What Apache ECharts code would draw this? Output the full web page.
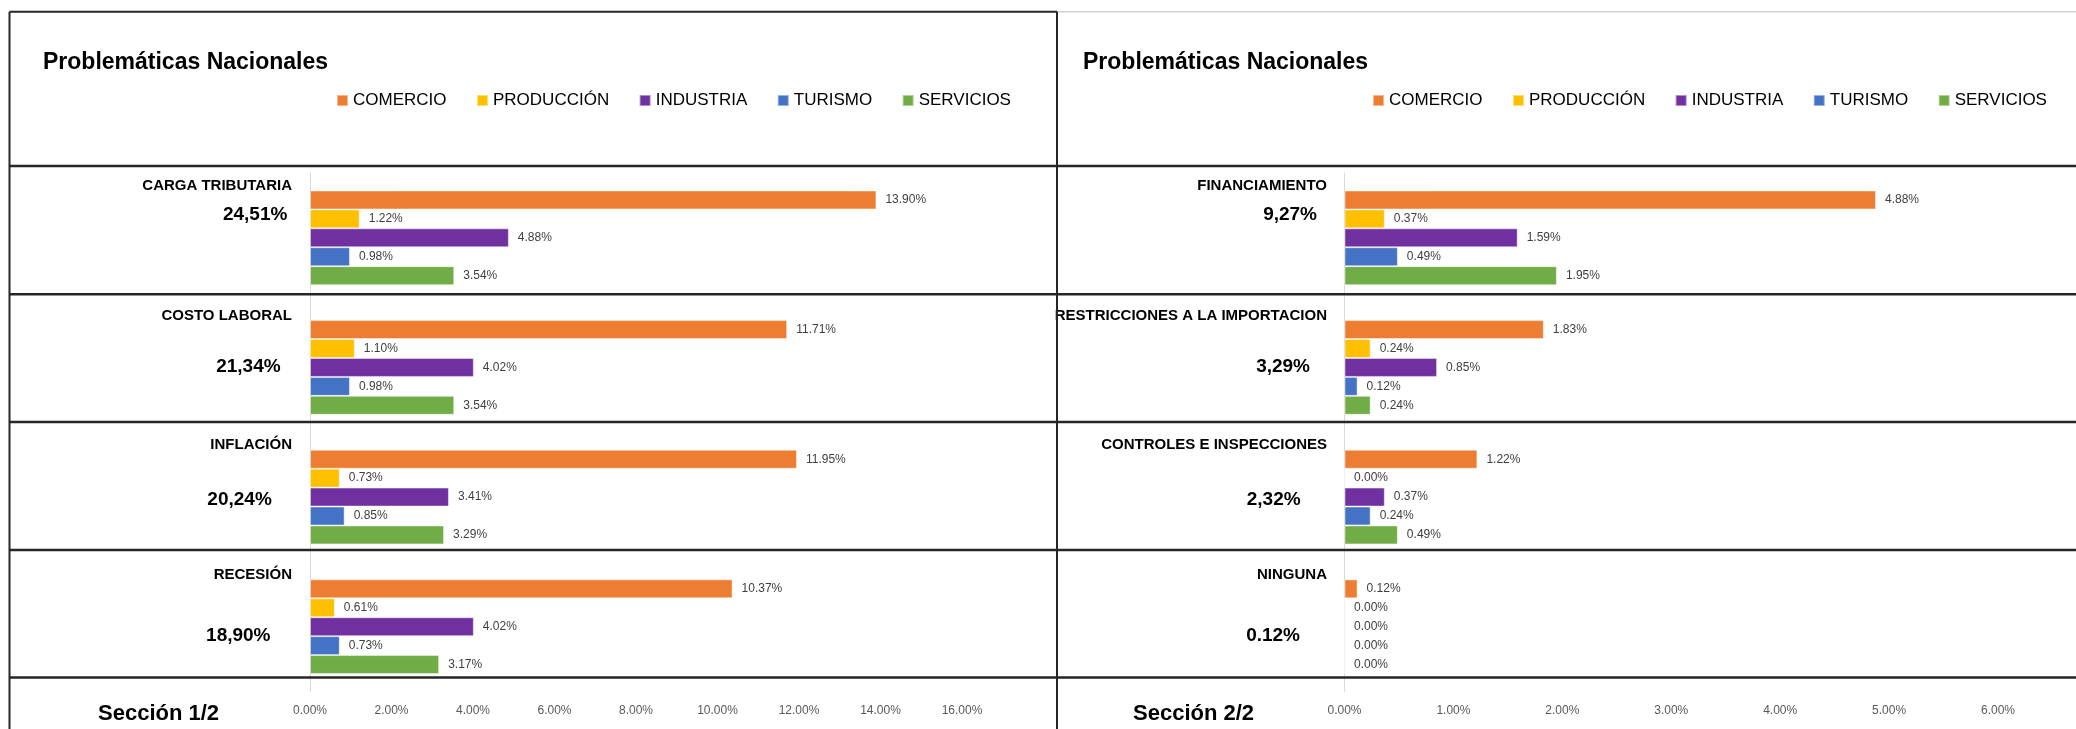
<!DOCTYPE html>
<html><head><meta charset="utf-8">
<script src="https://cdn.jsdelivr.net/npm/echarts@6/dist/echarts.min.js"></script>
<style>html,body{margin:0;padding:0;background:#fff}#c{width:2076px;height:729px}</style>
</head><body><div id="c"></div>
<script>
// ---------- DATA ----------
const seriesNames = ['COMERCIO', 'PRODUCCIÓN', 'INDUSTRIA', 'TURISMO', 'SERVICIOS'];
const titleText = 'Problemáticas Nacionales';
const sectionLabels = ['Sección 1/2', 'Sección 2/2'];

const categories1 = ['CARGA TRIBUTARIA', 'COSTO LABORAL', 'INFLACIÓN', 'RECESIÓN'];
const totals1 = ['24,51%', '21,34%', '20,24%', '18,90%'];
const comercio1   = [13.90, 11.71, 11.95, 10.37];
const produccion1 = [1.22, 1.10, 0.73, 0.61];
const industria1  = [4.88, 4.02, 3.41, 4.02];
const turismo1    = [0.98, 0.98, 0.85, 0.73];
const servicios1  = [3.54, 3.54, 3.29, 3.17];
const axisMax1 = 16, axisStep1 = 2;

const categories2 = ['FINANCIAMIENTO', 'RESTRICCIONES A LA IMPORTACION', 'CONTROLES E INSPECCIONES', 'NINGUNA'];
const totals2 = ['9,27%', '3,29%', '2,32%', '0.12%'];
const comercio2   = [4.88, 1.83, 1.22, 0.12];
const produccion2 = [0.37, 0.24, 0.00, 0.00];
const industria2  = [1.59, 0.85, 0.37, 0.00];
const turismo2    = [0.49, 0.12, 0.24, 0.00];
const servicios2  = [1.95, 0.24, 0.49, 0.00];
const axisMax2 = 6, axisStep2 = 1;

// ---------- STYLE / LAYOUT ----------
const colors = ['#ED7D31', '#FFC000', '#7030A0', '#4472C4', '#70AD47'];
const FONT = "'Liberation Sans', Arial, sans-serif";
const panels = [
  { left: 310, width: 652, nameRight: 292, titleX: 43, legendX: 336, sectionX: 98,
    totalDx: [-4.6, -11.4, -20.2, -21.5] },
  { left: 1344.5, width: 653.5, nameRight: 1327, titleX: 1083, legendX: 1372, sectionX: 1133,
    totalDx: [-10, -17, -26.4, -27] }
];
const nameDy = -52;
const totalDy = [-23.5, -1, 3, 9];
const plotTop = 173, plotHeight = 518.5;

const panelData = [
  { cats: categories1, totals: totals1, vals: [comercio1, produccion1, industria1, turismo1, servicios1], max: axisMax1, step: axisStep1 },
  { cats: categories2, totals: totals2, vals: [comercio2, produccion2, industria2, turismo2, servicios2], max: axisMax2, step: axisStep2 }
];

const chart = echarts.init(document.getElementById('c'), null, { renderer: 'canvas' });

const grids = [], xAxes = [], yAxes = [], series = [], legends = [];
panelData.forEach((pd, i) => {
  const p = panels[i];
  grids.push({ left: p.left, width: p.width, top: plotTop, height: plotHeight, containLabel: false });
  xAxes.push({
    type: 'value', gridIndex: i, min: 0, max: pd.max, interval: pd.step,
    axisLine: { show: false }, axisTick: { show: false }, splitLine: { show: false },
    axisLabel: { formatter: v => v.toFixed(2) + '%', fontSize: 12, color: '#595959', fontFamily: FONT, margin: 13 }
  });
  yAxes.push({
    type: 'category', gridIndex: i, data: pd.cats, inverse: true,
    axisLine: { show: true, lineStyle: { color: '#d9d9d9', width: 1 } },
    axisTick: { show: false }, axisLabel: { show: false }, splitLine: { show: false }
  });
  seriesNames.forEach((n, k) => {
    series.push({
      type: 'bar', name: n, xAxisIndex: i, yAxisIndex: i, data: pd.vals[k],
      barGap: '0%', barCategoryGap: '27%',
      itemStyle: { color: colors[k], borderColor: 'rgba(255,255,255,0.45)', borderWidth: 1 },
      label: { show: true, position: 'right', distance: 9, formatter: d => d.value.toFixed(2) + '%',
               fontSize: 12, color: '#404040', fontFamily: FONT },
      emphasis: { disabled: true }, animation: false
    });
  });
  legends.push({
    data: seriesNames, left: p.legendX, top: 91.5, padding: 0, itemGap: 29.5,
    itemWidth: 11, itemHeight: 11, icon: 'rect',
    textStyle: { fontSize: 17, color: '#000', fontFamily: FONT, lineHeight: 18 }
  });
});

chart.setOption({
  animation: false,
  color: colors,
  grid: grids, xAxis: xAxes, yAxis: yAxes, series: series, legend: legends
});

// ---------- decorations & category text ----------
const g = [];
const line = (x1, y1, x2, y2, color, w) => g.push({ type: 'line', shape: { x1, y1, x2, y2 }, style: { stroke: color, lineWidth: w }, silent: true, z: 10 });
// panel frames
line(9.5, 11.7, 1057, 11.7, '#262626', 2);
line(1057, 11.7, 2076, 11.7, '#d0d0d0', 1.5);
line(9.5, 11.7, 9.5, 729, '#262626', 2);
line(1057, 11.7, 1057, 729, '#262626', 2);
[166, 294.3, 422, 550, 677.5].forEach(y => line(9.5, y, 2076, y, '#262626', 2.5));

panelData.forEach((pd, i) => {
  const p = panels[i];
  g.push({ type: 'text', x: p.titleX, y: 62.5, style: { text: titleText, font: `bold 23px ${FONT}`, fill: '#000', textVerticalAlign: 'middle' } });
  g.push({ type: 'text', x: p.sectionX, y: 713.5, style: { text: sectionLabels[i], font: `bold 22px ${FONT}`, fill: '#000', textVerticalAlign: 'middle' } });
  pd.cats.forEach((c, j) => {
    const cy = chart.convertToPixel({ yAxisIndex: i }, c);
    g.push({ type: 'text', x: p.nameRight, y: cy + nameDy,
      style: { text: c, font: `bold 15px ${FONT}`, fill: '#000', textAlign: 'right', textVerticalAlign: 'middle' }, z: 5 });
    g.push({ type: 'text', x: p.nameRight + p.totalDx[j], y: cy + totalDy[j],
      style: { text: pd.totals[j], font: `bold 19px ${FONT}`, fill: '#000', textAlign: 'right', textVerticalAlign: 'middle' }, z: 5 });
  });
});
chart.setOption({ graphic: g });
</script>
</body></html>
